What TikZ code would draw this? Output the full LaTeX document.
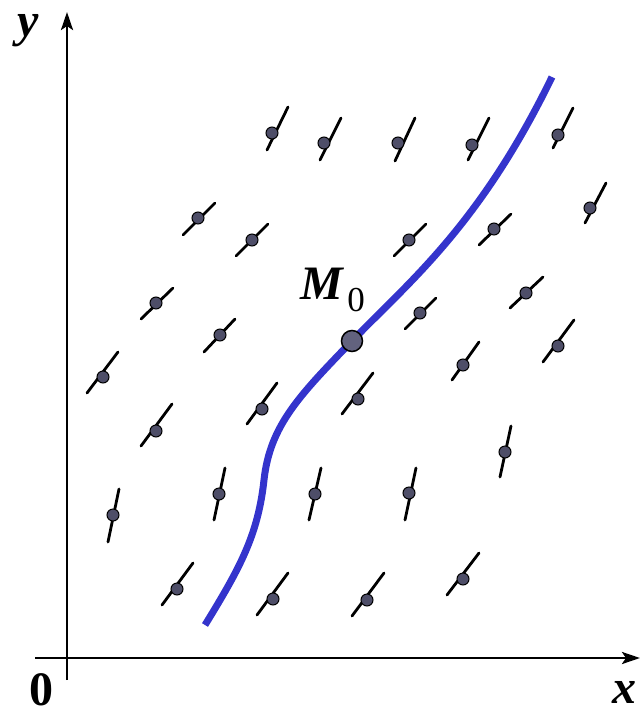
\documentclass[tikz,border=0pt]{standalone}
\usepackage{fontspec}
\setmainfont{Liberation Serif}
\usetikzlibrary{arrows.meta}
\definecolor{curveblue}{HTML}{3434CC}
\definecolor{dotfill}{HTML}{4E4E68}
\definecolor{mfill}{HTML}{62627E}
\tikzset{
  axis/.style={line width=2.8pt,-{Stealth[length=18pt,width=12pt,inset=4pt]}},
  seg/.style={line width=2.8pt,line cap=round},
  dotnode/.style={circle,draw=black,line width=1pt,fill=dotfill,minimum size=12pt,inner sep=0pt},
  bignode/.style={circle,draw=black,line width=1.5pt,fill=mfill,minimum size=21pt,inner sep=0pt},
  lbl/.style={inner sep=0pt,font=\fontsize{48}{48}\selectfont\bfseries\itshape},
  digit/.style={inner sep=0pt,font=\fontsize{48}{48}\selectfont\bfseries},
}
\begin{document}
\begin{tikzpicture}[x=1pt,y=-1pt]
\useasboundingbox (0,0) rectangle (640,713);
% axes
\coordinate (xs) at (35,658);
\coordinate (xe) at (640,658);
\coordinate (ys) at (67,680);
\coordinate (ye) at (67,12);
\draw[axis] (xs) -- (xe);
\draw[axis] (ys) -- (ye);
\node[lbl] (ylab) at (28,31) {y};
\node[lbl] (xlab) at (624,692) {x};
\node[digit] (olab) at (41,690) {0};
% direction field: center / lower end / upper end
\foreach \i/\cx/\cy/\ax/\ay/\bx/\by in {
  1/272/133/267/150/288/107,
  2/324/143/320/160/341/118,
  3/398/143/395/161/415/118,
  4/472/145/468/160/489/118,
  5/558/135/553/148/573/108,
  6/590/208/585/223/606/183,
  7/409/240/394/256/426/224,
  8/494/229/479/245/511/214,
  9/526/293/510/308/543/277,
  10/420/313/405/329/436/298,
  11/558/346/543/362/574/320,
  12/463/365/452/380/479/342,
  13/198/218/183/235/215/203,
  14/252/240/236/256/268/224,
  15/156/303/141/319/173/288,
  16/220/335/204/352/235/319,
  17/103/377/87/393/118/352,
  18/156/431/141/446/172/404,
  19/262/409/247/424/277/383,
  20/113/515/108/542/119/489,
  21/219/494/214/520/225/468,
  22/177/589/162/605/193/563,
  23/273/599/257/615/288/573,
  24/358/399/342/414/373/373,
  25/315/494/309/520/321/468,
  26/409/493/405/520/416/468,
  27/505/452/500/477/511/426,
  28/367/600/352/616/384/573,
  29/463/579/447/595/479/553}{
  \coordinate (s\i a) at (\ax,\ay);
  \coordinate (s\i b) at (\bx,\by);
  \draw[seg] (s\i a) -- (s\i b);
  \node[dotnode] (d\i) at (\cx,\cy) {};
}
% integral curve
\coordinate (c0) at (205,625);
\coordinate (c1) at (264,480);
\coordinate (cm) at (352,341);
\coordinate (c3) at (552,77);
\draw[curveblue,line width=7pt] (c0) .. controls (240,568) and (258,535) .. (c1)
  .. controls (270,425) and (300,395) .. (cm)
  .. controls (410,281) and (480,225) .. (c3);
\node[bignode] (m0) at (cm) {};
\node[lbl] (mlab) at (322,284) {M};
\node[inner sep=0pt,font=\fontsize{35}{35}\selectfont] (msub) at (356,300) {0};
\end{tikzpicture}
\end{document}
